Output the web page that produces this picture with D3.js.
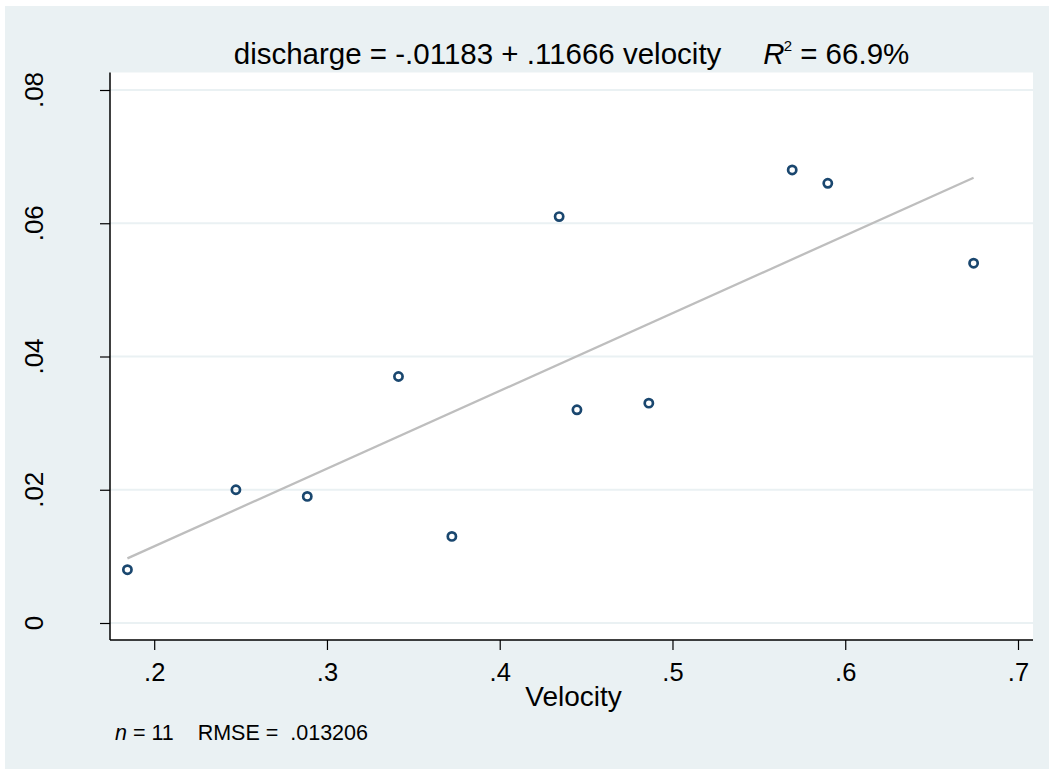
<!DOCTYPE html>
<html>
<head>
<meta charset="utf-8">
<script src="https://cdn.jsdelivr.net/npm/d3@7"></script>
<style>
  html, body { margin: 0; padding: 0; background: #ffffff; }
  svg { display: block; font-family: Arial, "Liberation Sans", Helvetica, sans-serif; }
</style>
</head>
<body>
<svg id="chart" width="1049" height="769"></svg>
<script>
// ---- data ----
const velocity  = [0.1845, 0.2473, 0.2886, 0.3414, 0.3723, 0.4344, 0.4447, 0.4863, 0.5693, 0.5899, 0.6743];
const discharge = [0.008,  0.020,  0.019,  0.037,  0.013,  0.061,  0.032,  0.033,  0.068,  0.066,  0.054];
const xTicks = [0.2, 0.3, 0.4, 0.5, 0.6, 0.7];
const yTicks = [0, 0.02, 0.04, 0.06, 0.08];
const fitIntercept = -0.01183;
const fitSlope = 0.11666;
const titleText = "discharge = -.01183 + .11666 velocity";
const r2Text = " = 66.9%";
const xLabel = "Velocity";
const noteN = "11";
const noteRMSE = ".013206";

// ---- layout ----
const W = 1049, H = 769;
const plot = { left: 110, right: 1033, top: 72.5, bottom: 640 };
const bg = "#eaf1f3";
const navy = "#1a476f";

const svg = d3.select("#chart");
svg.append("rect").attr("x", 5).attr("y", 6).attr("width", W - 5).attr("height", H - 6).attr("fill", bg);
svg.append("rect").attr("x", plot.left).attr("y", plot.top)
   .attr("width", plot.right - plot.left).attr("height", plot.bottom - plot.top).attr("fill", "#ffffff");

const x = d3.scaleLinear().domain([0.2, 0.7]).range([154.2, 1018]);
const y = d3.scaleLinear().domain([0, 0.08]).range([623, 90]);

const fmt = v => v === 0 ? "0" : d3.format(".2f")(v).replace(/^0/, "");
const fmtX = v => d3.format(".1f")(v).replace(/^0/, "");

// gridlines
svg.append("g").selectAll("line").data(yTicks).join("line")
  .attr("x1", plot.left).attr("x2", plot.right)
  .attr("y1", d => y(d)).attr("y2", d => y(d))
  .attr("stroke", bg).attr("stroke-width", 2);

// fit line
const xr = d3.extent(velocity);
svg.append("line")
  .attr("x1", x(xr[0])).attr("y1", y(fitIntercept + fitSlope * xr[0]))
  .attr("x2", x(xr[1])).attr("y2", y(fitIntercept + fitSlope * xr[1]))
  .attr("stroke", "#bebebe").attr("stroke-width", 2.3);

// points
svg.append("g").selectAll("circle").data(velocity.map((v, i) => [v, discharge[i]])).join("circle")
  .attr("cx", d => x(d[0])).attr("cy", d => y(d[1])).attr("r", 4.1)
  .attr("fill", "none").attr("stroke", navy).attr("stroke-width", 2.7);

// y axis
const yAxis = svg.append("g").attr("transform", `translate(${plot.left},0)`)
  .call(d3.axisLeft(y).tickValues(yTicks).tickFormat(fmt).tickSize(10));
yAxis.select(".domain").attr("d", `M0,${plot.top}V${plot.bottom}`).attr("stroke", "#000").attr("stroke-width", 1.5);
yAxis.selectAll(".tick line").attr("stroke", "#000").attr("stroke-width", 1.2);
yAxis.selectAll(".tick text").remove();
svg.append("g").selectAll("text").data(yTicks).join("text")
  .attr("transform", d => `translate(43,${y(d)}) rotate(-90)`)
  .attr("text-anchor", "middle").attr("font-size", 26).attr("fill", "#000")
  .text(fmt);

// x axis
const xAxis = svg.append("g").attr("transform", `translate(0,${plot.bottom})`)
  .call(d3.axisBottom(x).tickValues(xTicks).tickFormat(fmtX).tickSize(10).tickPadding(13));
xAxis.select(".domain").attr("d", `M${plot.left},0H${plot.right}`).attr("stroke", "#000").attr("stroke-width", 1.5);
xAxis.selectAll(".tick line").attr("stroke", "#000").attr("stroke-width", 1.2);
xAxis.selectAll(".tick text").attr("font-size", 25.5).attr("fill", "#000")
  .attr("font-family", "Arial, 'Liberation Sans', sans-serif");

// x axis title
svg.append("text").attr("x", (plot.left + plot.right) / 2 + 2).attr("y", 706)
  .attr("text-anchor", "middle").attr("font-size", 28).attr("fill", "#000").text(xLabel);

// title
const t = svg.append("text").attr("x", (plot.left + plot.right) / 2).attr("y", 64)
  .attr("text-anchor", "middle").attr("font-size", 29.5).attr("fill", "#000");
t.append("tspan").text(titleText);
t.append("tspan").attr("dx", 42).attr("font-style", "italic").text("R");
t.append("tspan").attr("font-size", 15).attr("dy", -13).attr("dx", -1).text("2");
t.append("tspan").attr("dy", 13).text(r2Text);

// note
const n = svg.append("text").attr("x", 115).attr("y", 740).attr("font-size", 21.5).attr("fill", "#000")
  .attr("xml:space", "preserve");
n.append("tspan").attr("font-style", "italic").text("n");
n.append("tspan").text(" = " + noteN + "    RMSE =  " + noteRMSE);
</script>
</body>
</html>
